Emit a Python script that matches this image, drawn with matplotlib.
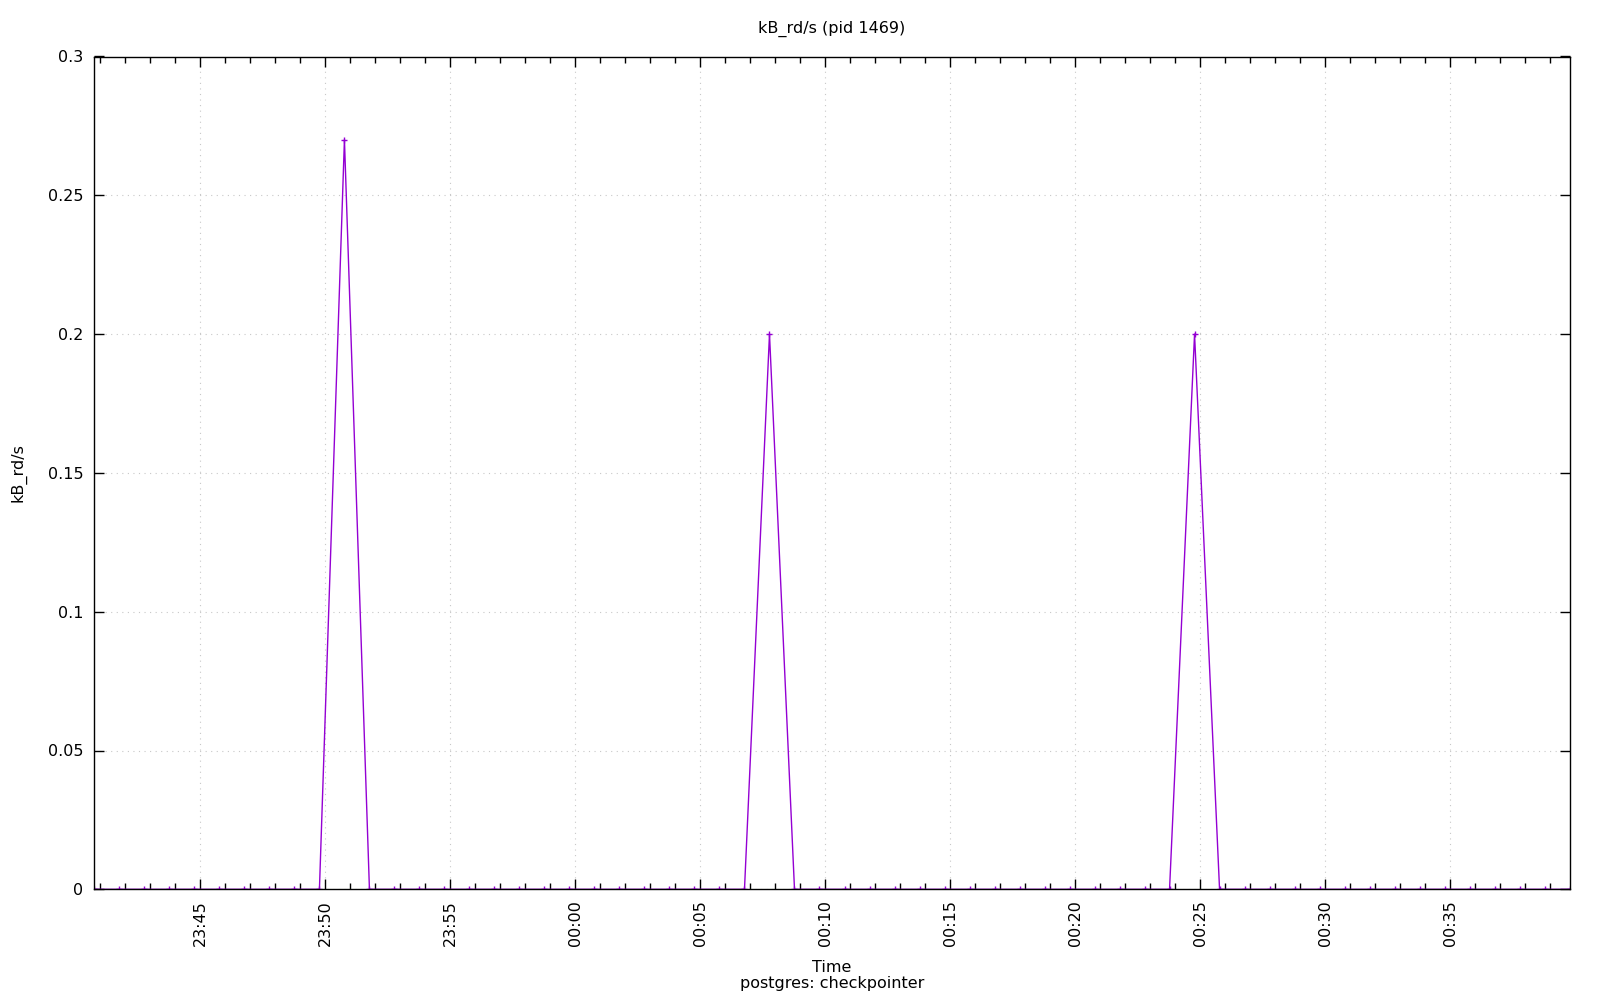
import datetime as dt
import matplotlib
matplotlib.use('Agg')
import matplotlib.pyplot as plt
import matplotlib.dates as mdates
from matplotlib.ticker import MultipleLocator

# sample times: one per minute starting 23:40:46
start = dt.datetime(2024, 1, 1, 23, 40, 46)
n_points = 60
times = [start + dt.timedelta(minutes=i) for i in range(n_points)]

# kB_rd/s values (zero except three spikes)
kb_rd = [0.0] * n_points
spike_idx = [10, 27, 44]
spike_val = [0.27, 0.2, 0.2]
for i, v in zip(spike_idx, spike_val):
    kb_rd[i] = v

title = 'kB_rd/s (pid 1469)'
ylabel = 'kB_rd/s'
xlabel = 'Time'
subtitle = 'postgres: checkpointer'

plt.rcParams['font.family'] = 'DejaVu Sans'
plt.rcParams['font.size'] = 11.5

fig = plt.figure(figsize=(16, 10), dpi=100)
ax = fig.add_axes([0.059, 0.1107, 0.922, 0.8328])

ax.plot(times, kb_rd, color='#9400d3', linewidth=1.0, marker='+',
        markersize=5, markeredgewidth=1.0)

ax.set_xlim(times[0], times[-1])
ax.set_ylim(0, 0.3)

ax.yaxis.set_major_locator(MultipleLocator(0.05))
ax.yaxis.set_major_formatter(matplotlib.ticker.FuncFormatter(
    lambda v, p: '0' if abs(v) < 1e-9 else ('%g' % round(v, 2))))

ax.xaxis.set_major_locator(mdates.MinuteLocator(byminute=range(0, 60, 5)))
ax.xaxis.set_minor_locator(mdates.MinuteLocator())
ax.xaxis.set_major_formatter(mdates.DateFormatter('%H:%M'))
plt.setp(ax.get_xticklabels(), rotation=90)

ax.tick_params(which='both', direction='in', top=True, right=True,
               width=1.0, color='black', labelsize=11.5)
ax.tick_params(which='major', length=7, pad=8)
ax.tick_params(which='minor', length=4)
for s in ax.spines.values():
    s.set_linewidth(1.0)

ax.grid(True, which='major', linestyle=(0, (1, 4)), color='#c8c8c8', linewidth=0.8)
ax.set_axisbelow(True)

# texts centred on the plot area, like gnuplot
cx = 0.059 + 0.922 / 2
fig.text(cx, 0.971, title, ha='center', va='center')
fig.text(cx, 0.032, xlabel, ha='center', va='center')
fig.text(cx, 0.0165, subtitle, ha='center', va='center')
fig.text(0.0115, 0.527, ylabel, ha='center', va='center', rotation=90)

fig.savefig('out.png', dpi=100)
